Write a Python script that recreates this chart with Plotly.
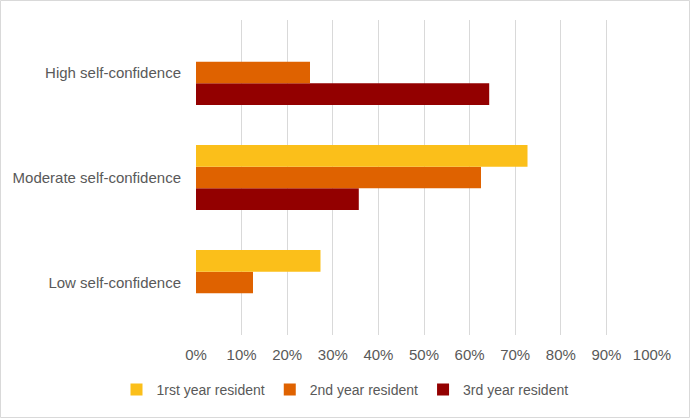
import plotly.graph_objects as go

categories = ["Low self-confidence", "Moderate self-confidence", "High self-confidence"]
series_names = ["1rst year resident", "2nd year resident", "3rd year resident"]
first_year = [0.273, 0.727, 0.0]
second_year = [0.125, 0.625, 0.25]
third_year = [0.0, 0.357, 0.643]
colors = ["#FBBF1A", "#DF6200", "#930000"]
x_ticks = [i / 10 for i in range(11)]

W, H = 690, 418
L, R, T, B = 196, 38, 20, 83
pw, ph = W - L - R, H - T - B

fig = go.Figure()
values = [first_year, second_year, third_year]
# add in reverse so the first series sits at the top of each group
for i in [2, 1, 0]:
    fig.add_trace(go.Bar(
        y=categories, x=values[i], name=series_names[i], orientation="h",
        marker=dict(color=colors[i], line=dict(width=0)),
    ))

font = dict(family="Liberation Sans, Arial, sans-serif", size=15, color="#595959")
legend_font = dict(family="Liberation Sans, Arial, sans-serif", size=14, color="#595959")

fig.update_layout(
    width=W, height=H,
    margin=dict(l=L, r=R, t=T, b=B, pad=0),
    paper_bgcolor="white", plot_bgcolor="white",
    barmode="group", bargap=0.38, bargroupgap=0,
    font=font,
    showlegend=True,
    legend=dict(orientation="h", traceorder="reversed",
                xref="container", yref="container",
                x=0.5, xanchor="center", y=1 - 390 / H, yanchor="middle",
                font=legend_font, itemwidth=30),
    xaxis=dict(range=[0, 1], tickvals=x_ticks, tickformat=".0%",
               showgrid=True, gridcolor="#D9D9D9", gridwidth=1,
               zeroline=False, showline=False, ticks="",
               ticklabelstandoff=9, fixedrange=True),
    yaxis=dict(categoryorder="array", categoryarray=categories,
               showgrid=False, zeroline=False, showline=False, ticks="",
               ticklabelstandoff=14),
    shapes=[dict(type="rect", xref="paper", yref="paper",
                 x0=(0.5 - L) / pw, x1=1 + (R - 0.5) / pw,
                 y0=-(B - 0.5) / ph, y1=1 + (T - 0.5) / ph,
                 line=dict(color="#D9D9D9", width=1), layer="below")],
)

fig.write_html("out.html", config={"displayModeBar": False},
               post_script="document.body.style.margin='0';")
